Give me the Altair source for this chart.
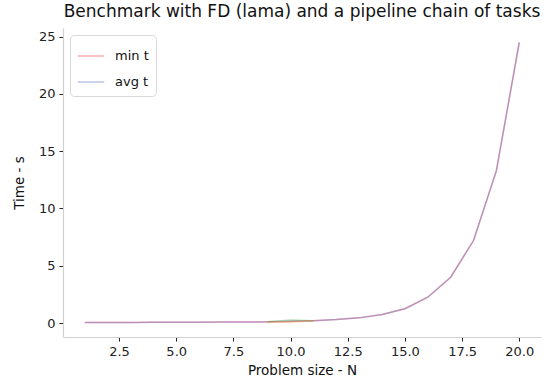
import altair as alt
import pandas as pd

# Problem sizes and measured run times (seconds)
n_values = list(range(1, 21))
min_t = [0.05, 0.05, 0.05, 0.06, 0.06, 0.07, 0.08, 0.09, 0.10, 0.14,
         0.20, 0.30, 0.45, 0.75, 1.25, 2.25, 4.00, 7.20, 13.3, 24.5]
avg_t = [0.05, 0.05, 0.05, 0.06, 0.06, 0.07, 0.08, 0.09, 0.11, 0.15,
         0.20, 0.30, 0.45, 0.75, 1.25, 2.25, 4.00, 7.20, 13.3, 24.5]

# Spread around N = 10 (upper / lower runs)
spread_n = [9, 10, 11]
upper_t = [0.11, 0.27, 0.20]
lower_t = [0.11, 0.08, 0.20]

series_names = ["min t", "avg t", "upper t", "lower t"]
series_colors = ["#ff1010", "#3050c8", "#2ca02c", "#ff7f0e"]
x_ticks = [2.5, 5.0, 7.5, 10.0, 12.5, 15.0, 17.5, 20.0]
y_ticks = [0, 5, 10, 15, 20, 25]

rows = []
for name, ns, vals in [("min t", n_values, min_t), ("avg t", n_values, avg_t),
                       ("upper t", spread_n, upper_t), ("lower t", spread_n, lower_t)]:
    for n, v in zip(ns, vals):
        rows.append({"N": n, "t": v, "series": name})
df = pd.DataFrame(rows)

font = "DejaVu Sans"

x_enc = alt.X(
    "N:Q",
    scale=alt.Scale(domain=[0.05, 20.95], nice=False, zero=False),
    axis=alt.Axis(values=x_ticks, format=".1f", title="Problem size - N",
                  grid=False, domainColor="#d0d0d0", tickColor="#222222",
                  tickSize=4, labelFontSize=13, titleFontSize=13.5,
                  labelColor="#222222", titleColor="#111111", labelFont=font,
                  titleFont=font, titleFontWeight="normal", labelPadding=4,
                  titlePadding=5, domainWidth=1.2),
)
y_enc = alt.Y(
    "t:Q",
    scale=alt.Scale(domain=[-1.22, 25.75], nice=False, zero=False),
    axis=alt.Axis(values=y_ticks, title="Time - s", grid=False,
                  domainColor="#d0d0d0", tickColor="#222222", tickSize=4,
                  labelFontSize=13, titleFontSize=13.5, labelColor="#222222",
                  titleColor="#111111", labelFont=font, titleFont=font,
                  titleFontWeight="normal", labelPadding=4, titlePadding=12,
                  domainWidth=1.2),
)

color_enc = alt.Color(
    "series:N",
    scale=alt.Scale(domain=series_names, range=series_colors),
    sort=series_names,
    legend=alt.Legend(
        values=["min t", "avg t"], title=None, orient="none",
        legendX=7, legendY=7, symbolType="stroke", symbolStrokeWidth=1.5,
        symbolSize=700, symbolOpacity=0.33, labelFontSize=13, labelFont=font,
        labelColor="#111111", fillColor="white", strokeColor="#d8d8d8",
        cornerRadius=4, padding=7, rowPadding=5, labelOffset=10,
    ),
)

lines = alt.Chart(df).mark_line(strokeWidth=1.5, opacity=0.33).encode(
    x=x_enc, y=y_enc, color=color_enc, order=alt.Order("N:Q")
)

chart = lines.properties(
    width=478,
    height=309,
    title=alt.TitleParams(
        "Benchmark with FD (lama) and a pipeline chain of tasks",
        fontSize=17, font=font, fontWeight="normal", color="#111111",
        anchor="middle", offset=7,
    ),
    autosize=alt.AutoSizeParams(type="none"),
    padding={"left": 63, "top": 28, "right": 12, "bottom": 53},
).configure_view(stroke=None)

chart.save("out.html", embed_options={"renderer": "svg", "actions": False})
